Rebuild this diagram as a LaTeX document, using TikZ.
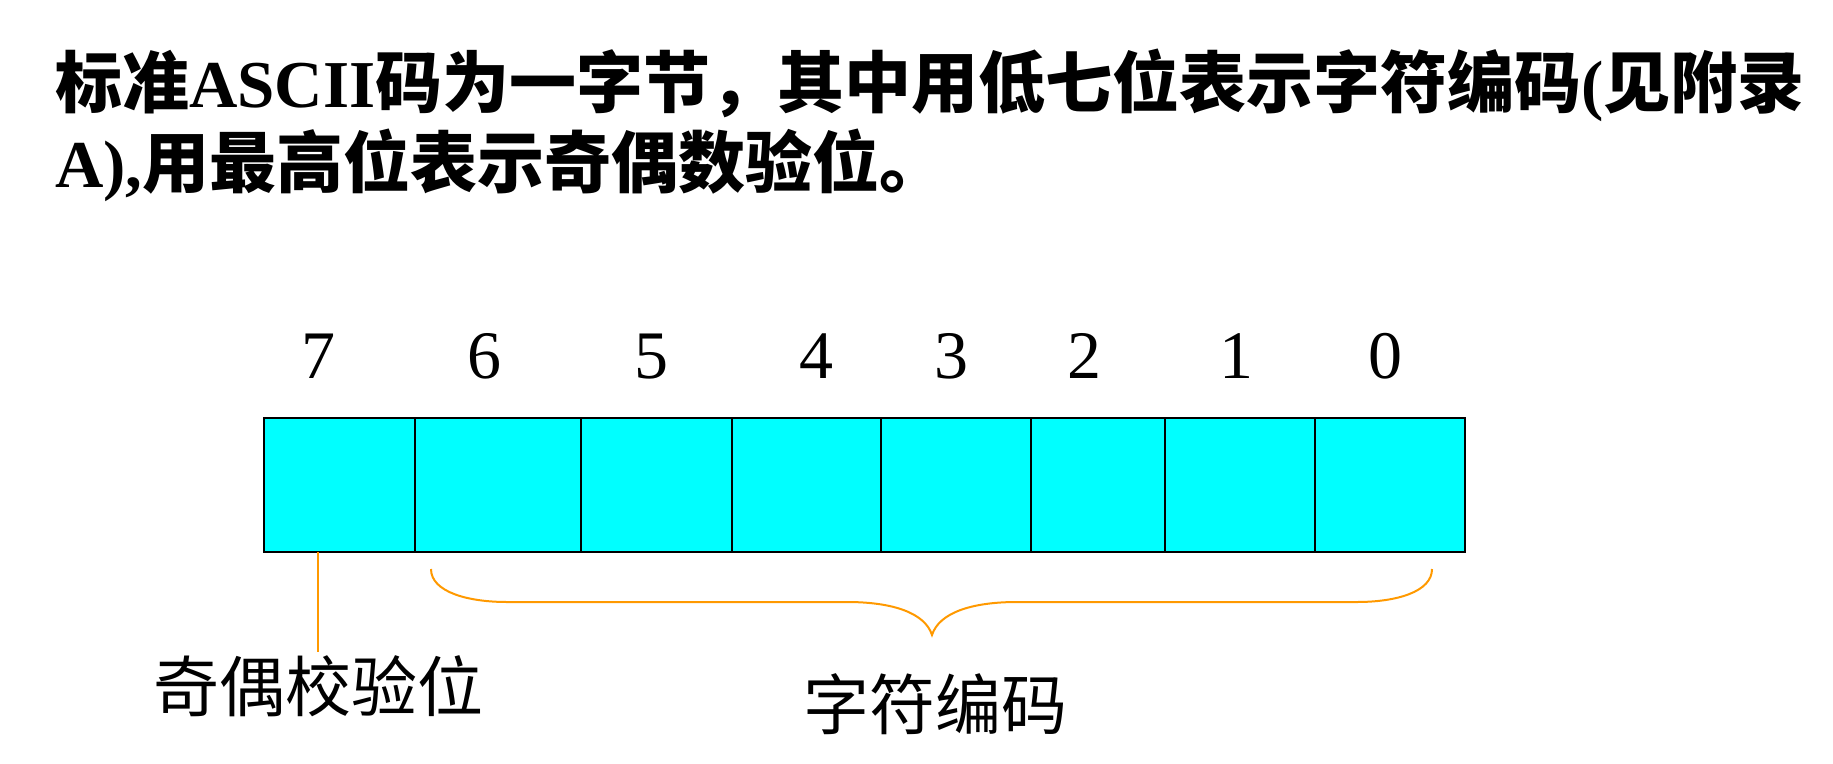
\documentclass[tikz,border=0pt]{standalone}
\usepackage{fontspec}
\setmainfont{Liberation Serif}
\newfontfamily\cjk{Noto Sans CJK SC}
\definecolor{bitcyan}{RGB}{0,255,255}
\definecolor{braceorange}{RGB}{255,153,0}

\tikzset{
  heading/.style={anchor=base west, inner sep=0, font=\bfseries\fontsize{67}{80}\selectfont},
  bitcell/.style={draw=black, line width=2.5pt, fill=bitcyan, inner sep=0, outer sep=0, minimum height=134pt},
  bitnum/.style={anchor=base, inner sep=0, font=\fontsize{68}{80}\selectfont},
  caption/.style={inner sep=0, font=\cjk\fontsize{66}{78}\selectfont},
  orangeline/.style={draw=braceorange, line width=2pt}
}

\begin{document}
\begin{tikzpicture}[x=1pt, y=-1pt]
            \useasboundingbox (0,0) rectangle (1833,763);

            % heading
            \node[heading] (line1) at (55,107) {{\cjk 标准}ASCII{\cjk 码为一字节，其中用低七位表示字符编码}({\cjk 见附录}};
            \node[heading] (line2) at (55,187) {A),{\cjk 用最高位表示奇偶数验位。}};

            % the eight bits of one byte
            \foreach \b/\l/\r in {7/264/415, 6/415/581, 5/581/732, 4/732/881, 3/881/1031, 2/1031/1165, 1/1165/1315, 0/1315/1465}
                \node[bitcell, minimum width={(\r-\l)*1pt}] (b\b) at ({(\l+\r)/2},485) {};
            \foreach \b/\x in {7/318, 6/484, 5/651, 4/816, 3/951, 2/1084, 1/1236, 0/1385}
                \node[bitnum] (n\b) at (\x,378) {\b};

            \node[caption] (parity) at (318,686) {奇偶校验位};
            \node[caption] (code) at (935,704) {字符编码};

            \draw [orangeline, shorten >=3pt] (b7.south -| parity.north) -- (parity.north);
            \draw [orangeline] (431,569) .. controls (431,592) and (468,602) .. (507,602)
                               -- (847,602) .. controls (893,602) and (925,613) .. (932,635)
                               .. controls (939,613) and (971,602) .. (1017,602)
                               -- (1357,602) .. controls (1396,602) and (1432,592) .. (1432,569);
        \end{tikzpicture}
\end{document}
